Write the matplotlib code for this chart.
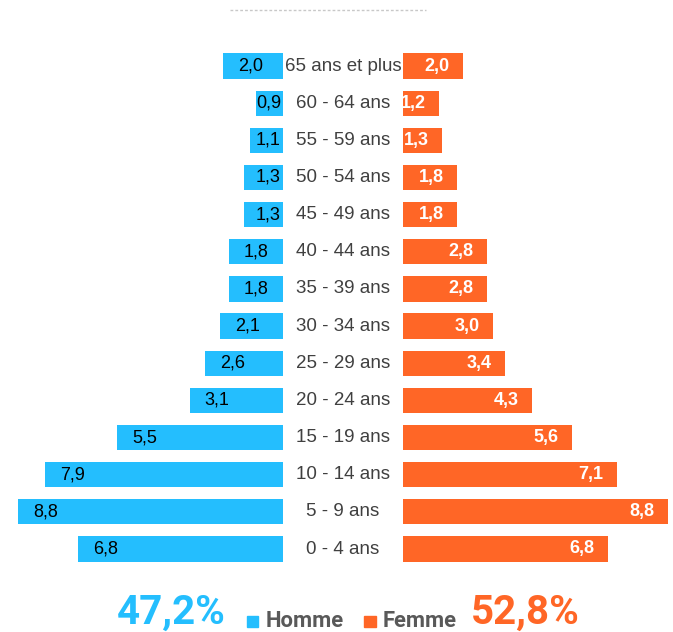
import matplotlib.pyplot as plt
import matplotlib.lines as mlines
from matplotlib.patches import Rectangle

# données
groupes = ['0 - 4 ans', '5 - 9 ans', '10 - 14 ans', '15 - 19 ans', '20 - 24 ans',
           '25 - 29 ans', '30 - 34 ans', '35 - 39 ans', '40 - 44 ans', '45 - 49 ans',
           '50 - 54 ans', '55 - 59 ans', '60 - 64 ans', '65 ans et plus']
homme = [6.8, 8.8, 7.9, 5.5, 3.1, 2.6, 2.1, 1.8, 1.8, 1.3, 1.3, 1.1, 0.9, 2.0]
femme = [6.8, 8.8, 7.1, 5.6, 4.3, 3.4, 3.0, 2.8, 2.8, 1.8, 1.8, 1.3, 1.2, 2.0]
total_homme = '47,2%'
total_femme = '52,8%'

bleu = '#24BEFE'
orange = '#FF6626'
gris = '#404040'

plt.rcParams['font.family'] = ['Liberation Sans Narrow', 'Liberation Sans', 'DejaVu Sans']

W, H = 673, 632
fig = plt.figure(figsize=(W / 100, H / 100), dpi=100)

px = 30.1  # pixels par unité
y_haut, y_bas = 40, 570
bas = 1 - y_bas / H
haut = (y_bas - y_haut) / H
lim_y = (-(y_bas - 549) / 37.15, (549 - y_haut) / 37.15)

# axe gauche (hommes)
ax_g = fig.add_axes([0, bas, 283 / W, haut])
ax_g.set_xlim(283 / px, 0)
ax_g.set_ylim(*lim_y)
# axe droit (femmes)
ax_d = fig.add_axes([403 / W, bas, (W - 403) / W, haut])
ax_d.set_xlim(0, (W - 403) / px)
ax_d.set_ylim(*lim_y)
for ax in (ax_g, ax_d):
    ax.axis('off')

pos = list(range(len(groupes)))
barres_g = ax_g.barh(pos, homme, height=0.68, color=bleu)
barres_d = ax_d.barh(pos, femme, height=0.68, color=orange)

for i, (v, b) in enumerate(zip(homme, barres_g)):
    x = max(v - 0.5, 0.9)
    t = ax_g.text(x, i, f'{v:.1f}'.replace('.', ','), ha='left', va='center',
                  fontsize=13, color='black')
    t.set_clip_path(b)

for i, (v, b) in enumerate(zip(femme, barres_d)):
    t = ax_d.text(v - 0.45, i, f'{v:.1f}'.replace('.', ','), ha='right', va='center',
                  fontsize=13, color='white', fontweight='bold')
    t.set_clip_path(b)

# libellés centraux
for i, g in enumerate(groupes):
    y = 1 - (549 - i * 37.15) / H
    fig.text(343 / W, y, g, ha='center', va='center', fontsize=13.5, color=gris)

# ligne pointillée en haut
fig.add_artist(mlines.Line2D([230 / W, 426 / W], [1 - 10 / H, 1 - 10 / H],
                             color='#c8c8c8', lw=1, ls=(0, (2, 1.5))))

# bas : totaux et légende
yb = 1 - 624 / H
fig.text(171 / W, yb, total_homme, ha='center', va='baseline', fontsize=29,
         fontweight='bold', color=bleu, family='Roboto')
fig.text(525 / W, yb, total_femme, ha='center', va='baseline', fontsize=29,
         fontweight='bold', color=orange, family='Roboto')
fig.add_artist(Rectangle((247 / W, 1 - 627 / H), 11 / W, 11 / H, color=bleu))
fig.add_artist(Rectangle((364 / W, 1 - 627 / H), 12 / W, 11 / H, color=orange))
fig.text(266 / W, 1 - 627 / H, 'Homme', ha='left', va='baseline', fontsize=15.8,
         fontweight='bold', color='#595959', family='Roboto')
fig.text(383 / W, 1 - 627 / H, 'Femme', ha='left', va='baseline', fontsize=15.8,
         fontweight='bold', color='#595959', family='Roboto')

fig.savefig('out.png', dpi=100)
